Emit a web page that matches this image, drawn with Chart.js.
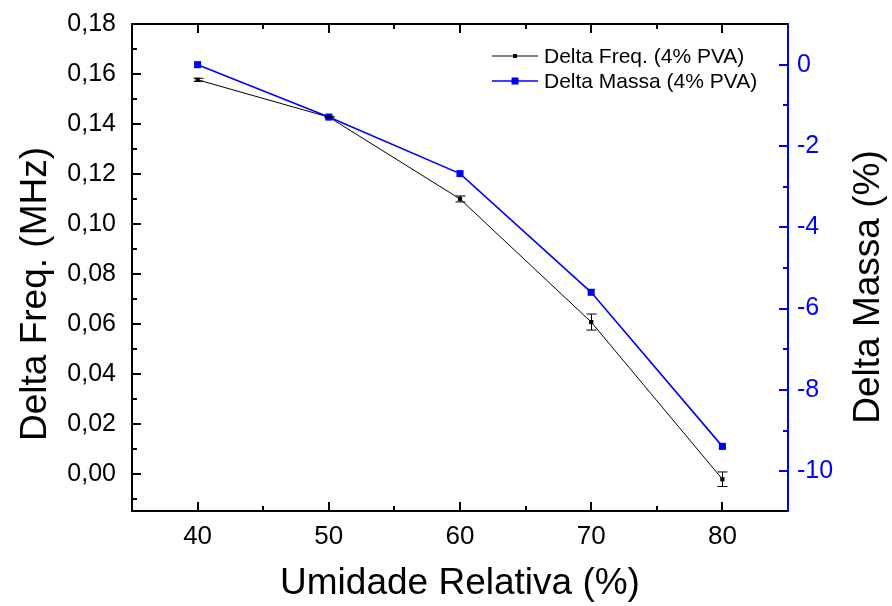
<!DOCTYPE html>
<html>
<head>
<meta charset="utf-8">
<script src="https://cdn.jsdelivr.net/npm/chart.js@4.4.1/dist/chart.umd.min.js"></script>
<style>
  html, body { margin: 0; padding: 0; background: #fff; }
</style>
</head>
<body>
<canvas id="myChart" width="892" height="606"></canvas>
<script>
// data
const umidade = [40, 50, 60, 70, 80];
const deltaFreq = [0.1577, 0.1428, 0.1101, 0.0609, -0.0019];
const deltaFreqErr = [0.0006, 0.0003, 0.0012, 0.0032, 0.0029];
const deltaMassa = [0.0, -1.29, -2.68, -5.60, -9.39];

// tick values
const xTicks = [40, 50, 60, 70, 80];
const xMinor = [45, 55, 65, 75];
const freqTicks = [0, 0.02, 0.04, 0.06, 0.08, 0.10, 0.12, 0.14, 0.16, 0.18];
const freqMinor = [-0.01, 0.01, 0.03, 0.05, 0.07, 0.09, 0.11, 0.13, 0.15, 0.17];
const massaTicks = [0, -2, -4, -6, -8, -10];
const massaMinor = [-1, -3, -5, -7, -9];

const xTitle = 'Umidade Relativa (%)';
const yTitle = 'Delta Freq. (MHz)';
const y2Title = 'Delta Massa (%)';

const FONT = '"Liberation Sans", Arial, sans-serif';
const BLUE = '#0000ff';

// error bars on the Delta Freq. series
const errorBars = {
  id: 'errorBars',
  afterDatasetsDraw(chart) {
    const {ctx} = chart;
    const x = chart.scales.x, y = chart.scales.y;
    ctx.save();
    ctx.strokeStyle = '#000';
    ctx.lineWidth = 1;
    umidade.forEach((u, i) => {
      const px = Math.round(x.getPixelForValue(u)) + 0.5;
      const top = y.getPixelForValue(deltaFreq[i] + deltaFreqErr[i]);
      const bot = y.getPixelForValue(deltaFreq[i] - deltaFreqErr[i]);
      ctx.beginPath();
      ctx.moveTo(px, top); ctx.lineTo(px, bot);
      ctx.moveTo(px - 5, top); ctx.lineTo(px + 5, top);
      ctx.moveTo(px - 5, bot); ctx.lineTo(px + 5, bot);
      ctx.stroke();
    });
    ctx.restore();
  }
};

// inward tick marks, top frame line, axis titles and legend
const frame = {
  id: 'frame',
  afterDraw(chart) {
    const {ctx, chartArea: a} = chart;
    const x = chart.scales.x, y = chart.scales.y, y2 = chart.scales.y2;
    ctx.save();
    ctx.lineWidth = 2;
    const line = (x1, y1, x2, y2_, color) => {
      ctx.strokeStyle = color;
      ctx.beginPath(); ctx.moveTo(x1, y1); ctx.lineTo(x2, y2_); ctx.stroke();
    };
    line(a.left - 1, a.top, a.right, a.top, '#000');
    xTicks.forEach(v => {
      const p = Math.round(x.getPixelForValue(v));
      line(p, a.bottom, p, a.bottom - 9, '#000');
      line(p, a.top, p, a.top + 9, '#000');
    });
    xMinor.forEach(v => {
      const p = Math.round(x.getPixelForValue(v));
      line(p, a.bottom, p, a.bottom - 5, '#000');
      line(p, a.top, p, a.top + 5, '#000');
    });
    freqTicks.forEach(v => {
      const p = Math.round(y.getPixelForValue(v));
      line(a.left, p, a.left + 9, p, '#000');
    });
    freqMinor.forEach(v => {
      const p = Math.round(y.getPixelForValue(v));
      line(a.left, p, a.left + 5, p, '#000');
    });
    massaTicks.forEach(v => {
      const p = Math.round(y2.getPixelForValue(v));
      line(a.right, p, a.right - 9, p, BLUE);
    });
    massaMinor.forEach(v => {
      const p = Math.round(y2.getPixelForValue(v));
      line(a.right, p, a.right - 5, p, BLUE);
    });

    // axis titles
    ctx.fillStyle = '#000';
    ctx.font = '37px ' + FONT;
    ctx.textAlign = 'center';
    ctx.textBaseline = 'middle';
    ctx.fillText(xTitle, (a.left + a.right) / 2, 584);
    [[yTitle, 36, 294], [y2Title, 869, 287]].forEach(([t, cx, cy]) => {
      ctx.save();
      ctx.translate(cx, cy);
      ctx.rotate(-Math.PI / 2);
      ctx.fillText(t, 0, 0);
      ctx.restore();
    });

    // legend inside the plot
    ctx.font = '21px ' + FONT;
    ctx.textBaseline = 'middle';
    ctx.textAlign = 'left';
    chart.data.datasets.forEach((ds, i) => {
      const ly = a.top + 32 + i * 25;
      const lx = a.right - 296;
      ctx.strokeStyle = ds.borderColor;
      ctx.lineWidth = ds.borderWidth;
      ctx.beginPath(); ctx.moveTo(lx, ly); ctx.lineTo(lx + 46, ly); ctx.stroke();
      const s = i === 0 ? 4 : 7;
      ctx.fillStyle = ds.borderColor;
      ctx.fillRect(lx + 23 - s / 2, ly - s / 2, s, s);
      ctx.fillStyle = '#000';
      ctx.fillText(ds.label, lx + 52, ly + 1);
    });
    ctx.restore();
  }
};

const noPad = s => { s.paddingTop = 0; s.paddingBottom = 0; };

const ctx = document.getElementById('myChart').getContext('2d');
new Chart(ctx, {
  type: 'line',
  data: {
    datasets: [
      {
        label: 'Delta Freq. (4% PVA)',
        data: umidade.map((u, i) => ({x: u, y: deltaFreq[i]})),
        yAxisID: 'y',
        borderColor: '#000',
        backgroundColor: '#000',
        borderWidth: 1,
        pointStyle: 'rect',
        pointRadius: 3,
        pointBorderWidth: 0,
        order: 1
      },
      {
        label: 'Delta Massa (4% PVA)',
        data: umidade.map((u, i) => ({x: u, y: deltaMassa[i]})),
        yAxisID: 'y2',
        borderColor: BLUE,
        backgroundColor: BLUE,
        borderWidth: 1.6,
        pointStyle: 'rect',
        pointRadius: 5,
        pointBorderWidth: 0,
        order: 0
      }
    ]
  },
  options: {
    responsive: false,
    animation: false,
    devicePixelRatio: 1,
    layout: { padding: { top: 24, left: 0, right: 0, bottom: 0 } },
    plugins: { legend: { display: false }, tooltip: { enabled: false } },
    scales: {
      x: {
        type: 'linear',
        min: 35, max: 85,
        afterBuildTicks: s => { s.ticks = xTicks.map(v => ({value: v})); },
        afterFit: s => { s.height = 95; s.paddingLeft = 0; s.paddingRight = 0; },
        grid: { display: false, drawTicks: false },
        border: { color: '#000', width: 2 },
        ticks: { color: '#000', font: { family: FONT, size: 26 }, padding: 10, maxRotation: 0 }
      },
      y: {
        position: 'left',
        min: -0.0146, max: 0.18,
        afterBuildTicks: s => { s.ticks = freqTicks.map(v => ({value: v})); },
        afterFit: s => { s.width = 132; noPad(s); },
        grid: { display: false, drawTicks: false },
        border: { color: '#000', width: 2 },
        ticks: { color: '#000', font: { family: FONT, size: 25 }, padding: 16,
          callback: v => v.toFixed(2).replace('.', ',') }
      },
      y2: {
        position: 'right',
        min: -10.98, max: 1.0,
        afterBuildTicks: s => { s.ticks = massaTicks.map(v => ({value: v})); },
        afterFit: s => { s.width = 104; noPad(s); },
        grid: { display: false, drawTicks: false },
        border: { color: BLUE, width: 2 },
        ticks: { color: BLUE, font: { family: FONT, size: 25 }, padding: 9 }
      }
    }
  },
  plugins: [errorBars, frame]
});
</script>
</body>
</html>
